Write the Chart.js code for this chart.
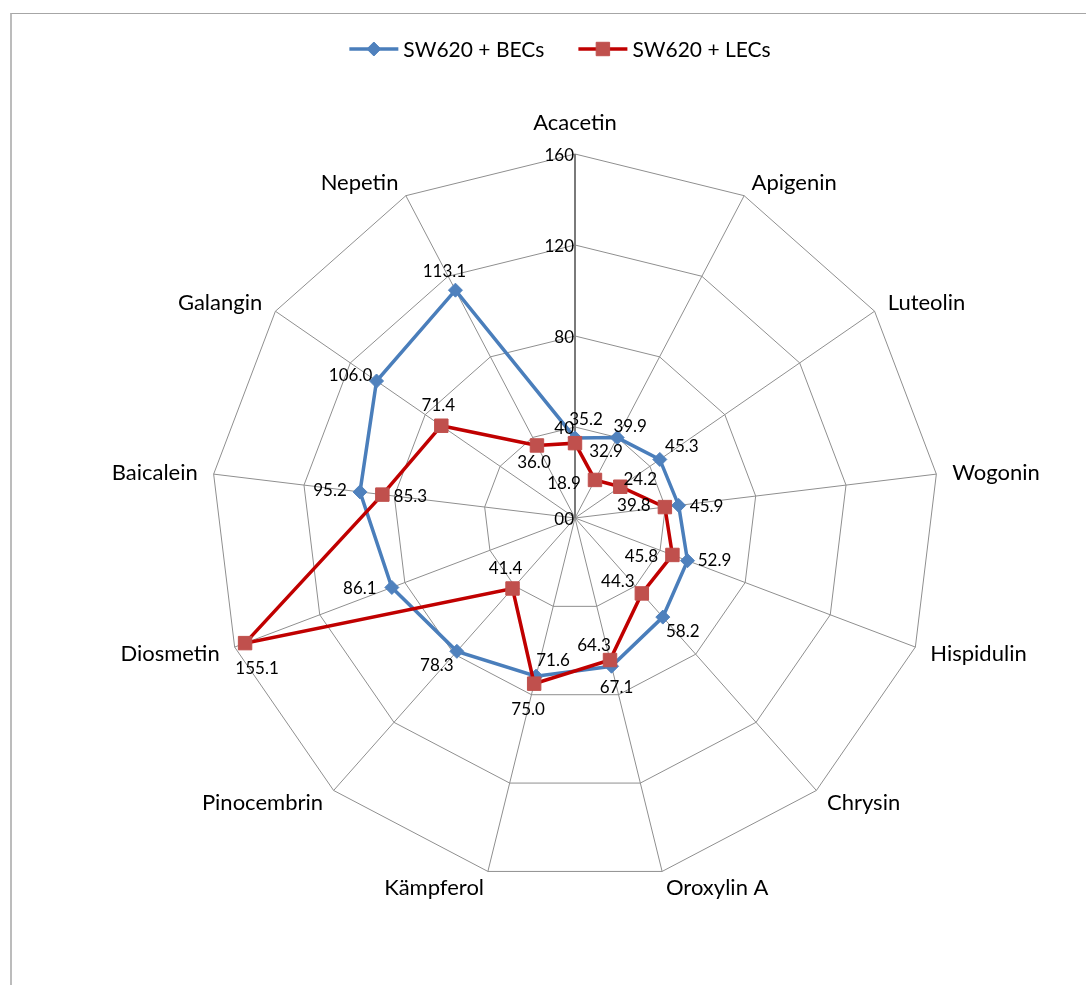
<!DOCTYPE html>
<html lang="en">
<head>
<meta charset="utf-8">
<title>SW620 + BECs / LECs</title>
<script src="https://cdn.jsdelivr.net/npm/chart.js@4"></script>
<style>
  html, body { margin: 0; padding: 0; background: #fff; }
  #wrap { position: relative; width: 1086px; height: 985px; overflow: hidden; }
  #radar { position: absolute; left: 0; top: 0; }
  /* chart area border, only top and left edges are in view */
  #frame {
    position: absolute; left: 10px; top: 13px; right: -10px; bottom: -10px;
    border-top: 1px solid #a6a6a6; border-left: 2px solid #bcbcbc;
    pointer-events: none;
  }
</style>
</head>
<body>
<div id="wrap">
  <canvas id="radar" width="1086" height="985"></canvas>
  <div id="frame"></div>
</div>

<script>
  const flavonoids = ['Acacetin', 'Apigenin', 'Luteolin', 'Wogonin', 'Hispidulin', 'Chrysin', 'Oroxylin A',
                      'Kämpferol', 'Pinocembrin', 'Diosmetin', 'Baicalein', 'Galangin', 'Nepetin'];
  const becValues = [35.2, 39.9, 45.3, 45.9, 52.9, 58.2, 67.1, 71.6, 78.3, 86.1, 95.2, 106.0, 113.1];
  const lecValues = [32.9, 18.9, 24.2, 39.8, 45.8, 44.3, 64.3, 75.0, 41.4, 155.1, 85.3, 71.4, 36.0];
  const tickValues = [0, 40, 80, 120, 160];
  const tickLabels = ['00', '40', '80', '120', '160'];

  // value labels are placed by hand around each marker (dx, dy in px) so they don't overlap
  const becLabelOffsets = [[11, -19], [13, -12], [22, -13], [28, 1], [27, -1], [20, 14], [5, 21],
                           [17, -16], [-20, 14], [-32, 1], [-30, -2], [-26, -6], [-11, -19]];
  const lecLabelOffsets = [[31, 8], [-31, 3], [20, -8], [-31, -2], [-31, 1], [-24, -12], [-16, -15],
                           [-6, 25], [-7, -20], [12, 25], [28, 1], [-3, -21], [-3, 17]];

  const BLUE_LINE = '#4a7ebb', BLUE_MARK = '#4f81bd';
  const RED_LINE = '#c00000', RED_MARK = '#c0504d';
  const FONT = 'Lato, "Open Sans", sans-serif';

  function drawLegend(ctx) {
    const items = [
      { text: 'SW620 + BECs', line: BLUE_LINE, mark: BLUE_MARK, style: 'rectRot', radius: 7 },
      { text: 'SW620 + LECs', line: RED_LINE, mark: RED_MARK, style: 'rect', radius: 9.5 }
    ];
    const lineLen = 49, textGap = 5, itemGap = 34, midY = 49;
    ctx.font = '21px ' + FONT;
    const widths = items.map(it => ctx.measureText(it.text).width);
    const total = widths.reduce((s, w) => s + lineLen + textGap + w, 0) + itemGap;
    let x = 560 - total / 2;

    items.forEach((it, i) => {
      ctx.strokeStyle = it.line;
      ctx.lineWidth = 3.5;
      ctx.beginPath();
      ctx.moveTo(x, midY);
      ctx.lineTo(x + lineLen, midY);
      ctx.stroke();

      ctx.fillStyle = it.mark;
      ctx.strokeStyle = it.mark;
      ctx.lineWidth = 1;
      Chart.helpers.drawPoint(ctx, { pointStyle: it.style, radius: it.radius, rotation: 0, borderWidth: 1 },
                              x + lineLen / 2, midY);

      ctx.fillStyle = '#000';
      ctx.textAlign = 'left';
      ctx.textBaseline = 'alphabetic';
      ctx.fillText(it.text, x + lineLen + textGap, midY + 7.5);
      x += lineLen + textGap + widths[i] + itemGap;
    });
  }

  // axis numbers, category names, value labels and the legend
  const radarText = {
    id: 'radarText',
    afterDraw(chart) {
      const ctx = chart.ctx;
      const r = chart.scales.r;
      ctx.save();
      ctx.fillStyle = '#000';
      ctx.textBaseline = 'alphabetic';

      ctx.font = '17px ' + FONT;
      ctx.textAlign = 'right';
      tickValues.forEach((v, i) => {
        const y = r.yCenter - r.getDistanceFromCenterForValue(v);
        ctx.fillText(tickLabels[i], r.xCenter - 1, y + 7);
      });

      ctx.font = '22px ' + FONT;
      flavonoids.forEach((name, i) => {
        const p = r.getPointPosition(i, r.drawingArea + 16);
        const cx = Math.cos(p.angle);
        if (Math.abs(cx) < 0.05) {
          ctx.textAlign = 'center';
          ctx.fillText(name, p.x, p.y - 8);
        } else {
          ctx.textAlign = cx > 0 ? 'left' : 'right';
          ctx.fillText(name, p.x, p.y + 8);
        }
      });

      ctx.font = '17px ' + FONT;
      ctx.textAlign = 'center';
      [[0, becLabelOffsets], [1, lecLabelOffsets]].forEach(([d, offs]) => {
        const meta = chart.getDatasetMeta(d);
        const vals = chart.data.datasets[d].data;
        meta.data.forEach((pt, i) => {
          ctx.fillText(vals[i].toFixed(1), pt.x + offs[i][0], pt.y + offs[i][1] + 6);
        });
      });

      drawLegend(ctx);
      ctx.restore();
    }
  };

  new Chart(document.getElementById('radar'), {
    type: 'radar',
    data: {
      labels: flavonoids,
      datasets: [
        {
          label: 'SW620 + BECs',
          data: becValues,
          order: 1,
          fill: false,
          borderColor: BLUE_LINE,
          borderWidth: 3.5,
          pointStyle: 'rectRot',
          pointRadius: 7,
          pointBackgroundColor: BLUE_MARK,
          pointBorderColor: BLUE_MARK,
          pointBorderWidth: 1
        },
        {
          label: 'SW620 + LECs',
          data: lecValues,
          order: 0,
          fill: false,
          borderColor: RED_LINE,
          borderWidth: 3.5,
          pointStyle: 'rect',
          pointRadius: 9.5,
          pointBackgroundColor: RED_MARK,
          pointBorderColor: RED_MARK,
          pointBorderWidth: 1
        }
      ]
    },
    options: {
      responsive: false,
      animation: false,
      layout: { padding: { left: 211, right: 147, top: 154, bottom: 103 } },
      plugins: {
        legend: { display: false },
        tooltip: { enabled: false }
      },
      elements: { line: { tension: 0 } },
      scales: {
        r: {
          min: 0,
          max: 160,
          ticks: { display: false, stepSize: 40 },
          grid: { color: '#8f8f8f', lineWidth: 1 },
          angleLines: {
            color: c => (c.index === 0 ? '#7a7a7a' : '#8f8f8f'),
            lineWidth: c => (c.index === 0 ? 2 : 1)
          },
          pointLabels: { display: false }
        }
      }
    },
    plugins: [radarText]
  });
</script>
</body>
</html>
